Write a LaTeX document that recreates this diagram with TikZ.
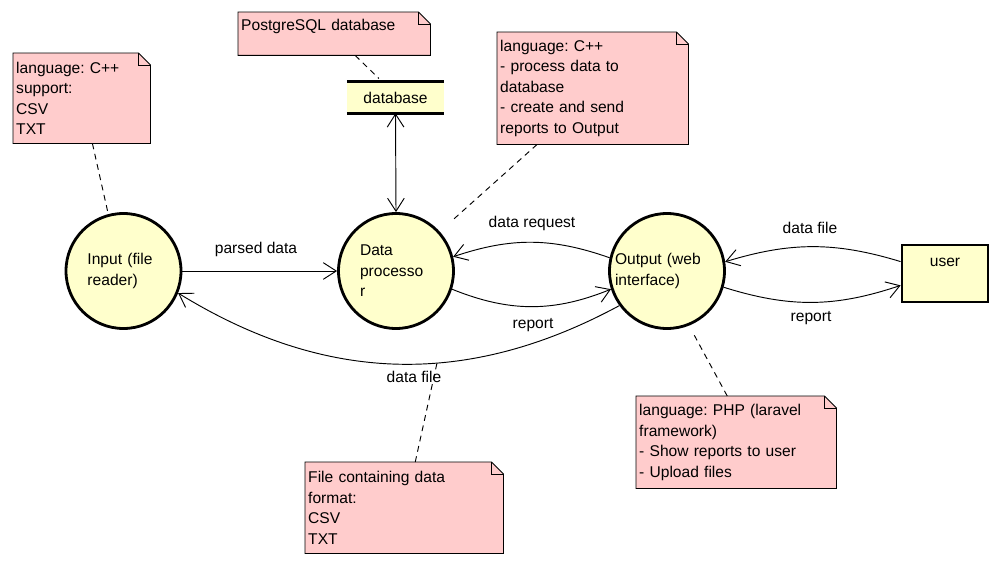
\documentclass[tikz,border=0pt]{standalone}
\usepackage{fontspec}
\setmainfont{Liberation Sans}
\usepackage{tikz}
\usetikzlibrary{arrows.meta}
\definecolor{bubble}{HTML}{FFFFCC}
\definecolor{notepink}{HTML}{FFCCCC}
\frenchspacing

\begin{document}
\begin{tikzpicture}[x=0.03cm, y=-0.03cm,
    font=\fontsize{13.3}{17.5}\selectfont,
    proc/.style={circle, draw, line width=2.4pt, fill=bubble, minimum size=3.45cm, inner sep=0pt, align=left, text width=2.16cm},
    note/.style={anchor=north west, fill=notepink, inner sep=0.09cm, align=left},
    flow/.style={line width=0.8pt, -{Straight Barb[length=0.39cm,width=0.5cm]}},
    noteline/.style={line width=0.8pt, dash pattern=on 5pt off 4pt}]
    \useasboundingbox (0,0) rectangle (998,566);

    % Draw processes and stores
    \node[proc] (in) at (123.5,271) {Input (file\\reader)};
    \node[proc] (dp) at (396,271) {Data\\processo\\r};
    \node[proc, text width=3.12cm] (out) at (667,271) {Output (web\\interface)};
    \node[fill=bubble, minimum width=2.91cm, minimum height=0.93cm] (db) at (395.5,97.5) {database};
    \draw[line width=2.4pt] (db.north west) -- (db.north east);
    \draw[line width=2.4pt] (db.south west) -- (db.south east);
    \node[draw, line width=2.4pt, fill=bubble, minimum width=2.58cm, minimum height=1.71cm, text depth=0.66cm] (user) at (945,273.5) {user};

    % Draw notes
    \node[note, text width=3.93cm, minimum height=2.7cm] (n1) at (13,53) {language: C++\\support:\\CSV\\TXT};
    \node[note, text width=5.58cm, minimum height=1.29cm, text depth=0.55cm] (n2) at (238,12) {PostgreSQL database};
    \node[note, text width=5.55cm, minimum height=3.36cm] (n3) at (497,32) {language: C++\\- process data to\\database\\- create and send\\reports to Output};
    \node[note, text width=5.82cm, minimum height=2.76cm] (n4) at (636,396) {language: PHP (laravel\\framework)\\- Show reports to user\\- Upload files};
    \node[note, text width=5.76cm, minimum height=2.73cm] (n5) at (305,462) {File containing data\\format:\\CSV\\TXT};
    \foreach \n in {n1,n2,n3,n4,n5} {
      \fill[white] ([xshift=-0.36cm]\n.north east) -- (\n.north east) -- ([yshift=-0.36cm]\n.north east) -- cycle;
      \draw[line width=0.8pt] (\n.north west) -- ([xshift=-0.36cm]\n.north east) -- ([yshift=-0.36cm]\n.north east) -- (\n.south east) -- (\n.south west) -- cycle;
      \draw[line width=0.6pt] ([xshift=-0.36cm]\n.north east) |- ([yshift=-0.36cm]\n.north east);
    }

    % Draw flows
    \draw[flow] (in.east) -- (dp.west);
    \draw[flow] (out.167) to[bend right=19] (dp.14);
    \draw[flow] (dp.-18) to[bend right=22] (out.198);
    \draw[flow] (user.165) to[bend right=17] (out.9);
    \draw[flow] (out.-16) to[bend right=18] (user.195);
    \draw[flow] (out.216) to[bend left=30] (in.-22);
    \draw[line width=0.8pt, {Straight Barb[length=0.39cm,width=0.5cm]}-{Straight Barb[length=0.39cm,width=0.5cm]}] (db.south) -- (dp.north);

    % Flow labels
    \node (lparsed) at (256,249) {parsed data};
    \node (lreq) at (532,223) {data request};
    \node (lfile1) at (810,228) {data file};
    \node (lrep1) at (811,318) {report};
    \node (lrep2) at (533,325) {report};
    \node (lfile2) at (414,377) {data file};

    % Attach notes
    \coordinate (n5b) at (437,363);
    \draw[noteline] ([xshift=0.32cm]n1.south) -- (in.105);
    \draw[noteline] ([xshift=0.63cm]n2.south) -- ([xshift=-0.5cm, yshift=0.1cm]db.north);
    \draw[noteline, shorten >=0.57cm] ([xshift=-1.67cm]n3.south) -- (dp.42);
    \draw[noteline, shorten >=0.33cm] ([xshift=-0.27cm]n4.north) -- (out.-68);
    \draw[noteline] ([xshift=0.33cm]n5.north) -- (n5b);
\end{tikzpicture}
\end{document}
